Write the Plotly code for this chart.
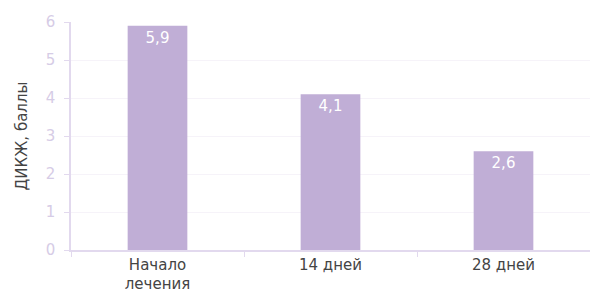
import plotly.graph_objects as go

categories = ["Начало<br>лечения", "14 дней", "28 дней"]
values = [5.9, 4.1, 2.6]
value_labels = ["5,9", "4,1", "2,6"]
y_ticks = [0, 1, 2, 3, 4, 5, 6]

axis_col = "#e2d9ee"
tick_font_col = "#d6cce6"
bar_col = "#c0aed6"

fig = go.Figure(go.Bar(
    x=categories, y=values, text=value_labels,
    textposition="inside", insidetextanchor="end",
    textfont=dict(color="white", size=15, family="DejaVu Sans"),
    marker=dict(color=bar_col, line=dict(width=0)),
    width=0.345,
))
fig.update_layout(
    width=590, height=294,
    margin=dict(l=71, r=0, t=22, b=44, autoexpand=False),
    paper_bgcolor="white", plot_bgcolor="white",
    showlegend=False,
    font=dict(family="DejaVu Sans", size=15, color="#444444"),
)
fig.update_yaxes(
    range=[0, 6], tickvals=y_ticks, automargin=False,
    showgrid=True, gridcolor="#f6f3f9", gridwidth=1,
    showline=True, linecolor=axis_col, linewidth=1.5,
    ticks="outside", ticklen=5, tickcolor=axis_col,
    ticklabelstandoff=6,
    tickfont=dict(color=tick_font_col, size=15),
    zeroline=False,
    title=dict(text="ДИКЖ, баллы", font=dict(size=15, color="#444444"), standoff=14),
)
fig.update_xaxes(
    automargin=False,
    showline=True, linecolor=axis_col, linewidth=1.5,
    ticks="outside", ticklen=5, tickcolor=axis_col,
    tickson="boundaries",
    tickfont=dict(size=15, color="#444444"),
)
fig.write_html(
    "out.html",
    config={"displayModeBar": False},
    post_script="document.body.style.margin='0';document.body.style.overflow='hidden';",
)
